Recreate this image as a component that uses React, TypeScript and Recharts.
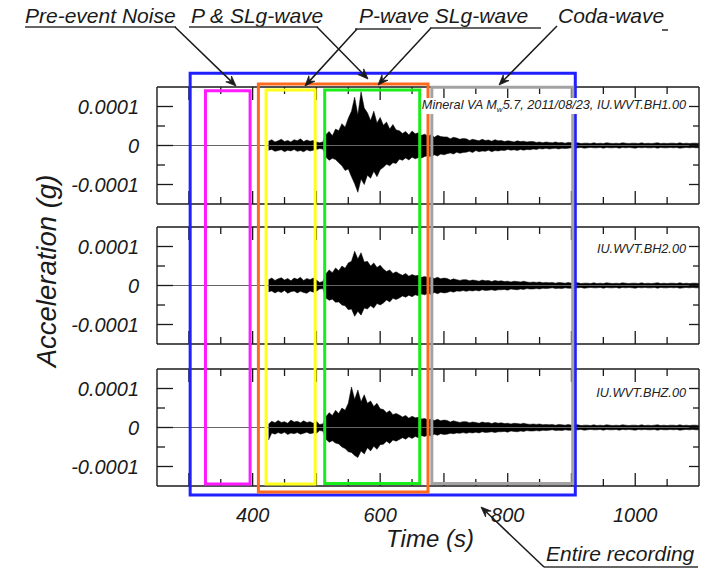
import React from 'react';
import { ComposedChart, Area, XAxis, YAxis, ReferenceLine, ReferenceArea } from 'recharts';

// ---------------- DATA ----------------
// Sampling grid of the envelope traces (seconds)
const TRACE_START_S = 425;
const TRACE_STEP_S = 5;

// Acceleration envelopes in micro-g (1e-6 g): upper and lower value per 5 s bin
const bh1Upper = [
  11, 15, 9, 12, 16, 10, 13, 9, 15, 12, 17, 10, 14, 11, 13, 9,
  7, 9,
  28, 36, 25, 42,
  38, 56, 47, 70,
  88, 124, 78, 138, 96,
  84, 64, 88, 58, 72,
  52, 60, 42, 54, 40,
  38, 31, 36, 27, 37, 30, 33, 26,
  29, 24, 28, 21, 26, 23, 22,
  22, 17, 21, 19, 16, 18,
  17, 13, 16, 14, 12, 16, 13, 14, 11, 15, 12,
  13, 10, 12, 11, 9, 12, 10, 11, 9, 10,
  10, 8, 9, 7, 9, 8, 7, 9, 7, 8, 6, 8, 7, 6,
  7, 5, 6, 6, 5, 7, 5, 6, 5, 7, 6, 5, 6, 5, 7, 6, 5, 6, 6, 5, 7, 5, 6, 5, 6, 7, 5, 6, 5, 6, 6, 5, 7, 5, 6, 5, 6, 6, 5,
];
const bh1Lower = [
  -12, -10, -15, -13, -11, -16, -12, -14, -10, -15, -13, -16, -11, -14, -12, -10,
  -8, -9,
  -30, -38, -33, -36,
  -44, -52, -64, -60,
  -80, -98, -120, -86, -100,
  -76, -84, -66, -80, -62,
  -56, -48, -52, -44, -46,
  -35, -38, -32, -37, -30, -34, -31, -32,
  -28, -26, -29, -24, -27, -22, -24,
  -21, -19, -22, -17, -20, -18,
  -17, -15, -18, -13, -16, -14, -15, -12, -16, -13, -14,
  -12, -13, -10, -12, -11, -13, -10, -12, -10, -11,
  -9, -10, -8, -9, -7, -9, -8, -7, -9, -7, -8, -7, -6, -8,
  -6, -5, -7, -6, -5, -6, -6, -5, -7, -5, -6, -6, -5, -7, -5, -6, -5, -6, -7, -5, -6, -5, -6, -6, -5, -7, -5, -6, -6, -5, -6, -5, -7, -6, -5, -6, -5, -6, -6,
];
const bh2Upper = [
  15, 19, 13, 17, 20, 14, 18, 12, 19, 16, 21, 13, 18, 15, 19, 14,
  8, 10,
  30, 40, 33, 45,
  38, 50, 44, 58,
  62, 88, 68, 84, 60,
  62, 50, 58, 46, 52,
  42, 36, 40, 31, 35,
  30, 26, 31, 24, 28, 25, 26, 21,
  23, 20, 22, 18, 21, 17, 19,
  18, 14, 17, 15, 13, 15,
  15, 12, 14, 13, 11, 14, 12, 13, 10, 13, 11,
  12, 10, 11, 9, 11, 10, 9, 11, 9, 8,
  9, 8, 9, 7, 8, 7, 8, 6, 8, 7, 6, 8, 6, 7,
  7, 5, 6, 6, 5, 7, 5, 6, 5, 7, 6, 5, 6, 5, 7, 6, 5, 6, 6, 5, 7, 5, 6, 5, 6, 7, 5, 6, 5, 6, 6, 5, 7, 5, 6, 5, 6, 6, 5,
];
const bh2Lower = [
  -16, -14, -19, -15, -18, -13, -20, -16, -14, -19, -15, -18, -20, -14, -17, -15,
  -9, -8,
  -32, -38, -35, -43,
  -42, -50, -52, -62,
  -60, -79, -66, -76, -58,
  -60, -52, -58, -46, -50,
  -45, -37, -42, -33, -36,
  -32, -27, -30, -25, -29, -24, -26, -22,
  -24, -20, -23, -18, -21, -17, -19,
  -18, -15, -17, -14, -15, -13,
  -15, -13, -14, -12, -14, -11, -13, -12, -11, -13, -11,
  -11, -10, -12, -9, -10, -11, -9, -10, -8, -9,
  -9, -8, -9, -7, -8, -7, -6, -8, -7, -8, -6, -7, -7, -6,
  -6, -5, -7, -6, -5, -6, -6, -5, -7, -5, -6, -6, -5, -7, -5, -6, -5, -6, -7, -5, -6, -5, -6, -6, -5, -7, -5, -6, -6, -5, -6, -5, -7, -6, -5, -6, -5, -6, -6,
];
const bhzUpper = [
  9, 16, 12, 18, 13, 15, 11, 19, 14, 16, 12, 17, 13, 15, 11, 16,
  8, 9,
  28, 38, 31, 44,
  36, 50, 44, 62,
  104, 72, 96, 66, 84,
  62, 68, 54, 62, 48,
  46, 38, 43, 33, 36,
  32, 27, 31, 24, 29, 25, 26, 22,
  23, 19, 22, 18, 21, 17, 19,
  18, 14, 17, 15, 13, 15,
  15, 12, 14, 13, 11, 14, 12, 13, 10, 13, 11,
  12, 10, 11, 9, 11, 10, 9, 11, 9, 8,
  9, 8, 9, 7, 8, 7, 8, 6, 8, 7, 6, 8, 6, 7,
  7, 5, 6, 6, 5, 7, 5, 6, 5, 7, 6, 5, 6, 5, 7, 6, 5, 6, 6, 5, 7, 5, 6, 5, 6, 7, 5, 6, 5, 6, 6, 5, 7, 5, 6, 5, 6, 6, 5,
];
const bhzLower = [
  -32, -14, -17, -13, -16, -12, -18, -14, -16, -13, -17, -15, -12, -16, -14, -15,
  -8, -9,
  -30, -38, -34, -40,
  -42, -50, -54, -62,
  -64, -72, -77, -60, -68,
  -52, -60, -48, -56, -44,
  -43, -35, -41, -32, -35,
  -31, -26, -30, -24, -28, -23, -26, -21,
  -23, -19, -22, -17, -20, -16, -18,
  -17, -15, -16, -14, -15, -13,
  -15, -13, -14, -12, -14, -11, -13, -12, -11, -13, -11,
  -11, -10, -12, -9, -10, -11, -9, -10, -8, -9,
  -9, -8, -9, -7, -8, -7, -6, -8, -7, -8, -6, -7, -7, -6,
  -6, -5, -7, -6, -5, -6, -6, -5, -7, -5, -6, -6, -5, -7, -5, -6, -5, -6, -7, -5, -6, -5, -6, -6, -5, -7, -5, -6, -6, -5, -6, -5, -7, -6, -5, -6, -5, -6, -6,
];

const timeDomain = [250, 1100];
const timeTicks = [300, 350, 400, 450, 500, 550, 600, 650, 700, 750, 800, 850, 900, 950, 1000, 1050];
const timeLabelTicks = [400, 600, 800, 1000];
const accelDomain = [-150, 150];
const accelTicks = [-100, -50, 0, 50, 100];
const accelLabelTicks = [-100, 0, 100];
const accelTickLabels = ['-0.0001', '0', '0.0001'];

const stationNames = ['IU.WVT.BH1.00', 'IU.WVT.BH2.00', 'IU.WVT.BHZ.00'];

// Analysis windows (seconds)
const windowNames = ['Entire recording', 'Pre-event Noise', 'P & SLg-wave', 'P-wave', 'SLg-wave', 'Coda-wave'];
const windowStarts = [302, 326, 409, 421, 513, 681];
const windowEnds = [906, 396, 675, 498, 662, 902];

// ---------------- STYLE / LAYOUT ----------------
const FONT = '"Liberation Sans", Arial, Helvetica, sans-serif';
const INK = '#1a1a1a';
const W = 714;
const H = 569;
const PLOT_LEFT = 157;
const PLOT_RIGHT = 699;
const PANEL_TOPS = [87, 227, 369];
const PANEL_H = 117;
const TOP_AXIS_H = 10;
const BOTTOM_AXIS_H = 45;
const LEFT_AXIS_W = 60;
const RIGHT_AXIS_W = 10;
const TM = 4; // tick margin used to locate the axis line in custom ticks

// box styles: colour and vertical extent in stack units (0 = bottom frame, 1 = top frame)
const WINDOW_STYLE: Record<string, { color: string; y1: number; y2: number }> = {
  'Entire recording': { color: '#1f1fff', y1: -0.0226, y2: 1.0343 },
  'Pre-event Noise': { color: '#ff1aff', y1: 0.005, y2: 0.9907 },
  'P & SLg-wave': { color: '#ff6a1c', y1: -0.015, y2: 1.0075 },
  'P-wave': { color: '#ffff1a', y1: 0.005, y2: 0.9925 },
  'SLg-wave': { color: '#1aee1a', y1: 0.006, y2: 0.9925 },
  'Coda-wave': { color: '#a3a3a3', y1: 0.0063, y2: 0.9992 },
};

const AXIS_LINE = { stroke: INK, strokeWidth: 1.4 };

const isMajor = (v: number) => v % 100 === 0;

const makeBottomTick = (showLabels: boolean) => (props: any) => {
  const { x, y, payload } = props;
  const axisY = y - TM;
  const len = isMajor(payload.value) ? 13 : 7;
  return (
    <g>
      <line x1={x} x2={x} y1={axisY} y2={axisY - len} stroke={INK} strokeWidth={1.3} />
      {showLabels && timeLabelTicks.includes(payload.value) ? (
        <text x={x} y={axisY + 29} textAnchor="middle" dominantBaseline="central" fontFamily={FONT}
          fontStyle="italic" fontSize={20} fill={INK}>{payload.value}</text>
      ) : null}
    </g>
  );
};

const TopTick = (props: any) => {
  const { x, y, payload } = props;
  const axisY = y + TM;
  const len = isMajor(payload.value) ? 13 : 7;
  return <line x1={x} x2={x} y1={axisY} y2={axisY + len} stroke={INK} strokeWidth={1.3} />;
};

const LeftTick = (props: any) => {
  const { x, y, payload } = props;
  const axisX = x + TM;
  const major = isMajor(payload.value);
  const li = accelLabelTicks.indexOf(payload.value);
  return (
    <g>
      <line x1={axisX} x2={axisX + (major ? 16 : 8)} y1={y} y2={y} stroke={INK} strokeWidth={1.3} />
      {li >= 0 ? (
        <text x={axisX - 18} y={y} textAnchor="end" dominantBaseline="central" fontFamily={FONT}
          fontStyle="italic" fontSize={20} fill={INK}>{accelTickLabels[li]}</text>
      ) : null}
    </g>
  );
};

const RightTick = (props: any) => {
  const { x, y, payload } = props;
  const axisX = x - TM;
  const len = isMajor(payload.value) ? 10 : 6;
  return <line x1={axisX} x2={axisX - len} y1={y} y2={y} stroke={INK} strokeWidth={1.3} />;
};

function Panel({ index, upper, lower, showTimeLabels }: { index: number; upper: number[]; lower: number[]; showTimeLabels: boolean }) {
  const data = upper.map((u, i) => ({ t: TRACE_START_S + i * TRACE_STEP_S, range: [lower[i], u] }));
  return (
    <div style={{ position: 'absolute', left: 0, top: PANEL_TOPS[index] - TOP_AXIS_H }}>
      <ComposedChart
        width={W}
        height={TOP_AXIS_H + PANEL_H + BOTTOM_AXIS_H}
        data={data}
        margin={{ top: 0, bottom: 0, left: PLOT_LEFT - LEFT_AXIS_W, right: W - PLOT_RIGHT - RIGHT_AXIS_W }}
      >
        <XAxis xAxisId="bottom" dataKey="t" type="number" domain={timeDomain} ticks={timeTicks} interval={0}
          allowDataOverflow height={BOTTOM_AXIS_H} tickSize={0} tickMargin={TM} tickLine={false}
          axisLine={AXIS_LINE} tick={makeBottomTick(showTimeLabels)} />
        <XAxis xAxisId="top" orientation="top" dataKey="t" type="number" domain={timeDomain} ticks={timeTicks}
          interval={0} allowDataOverflow height={TOP_AXIS_H} tickSize={0} tickMargin={TM} tickLine={false}
          axisLine={AXIS_LINE} tick={TopTick} />
        <YAxis yAxisId="left" type="number" domain={accelDomain} ticks={accelTicks} interval={0}
          allowDataOverflow width={LEFT_AXIS_W} tickSize={0} tickMargin={TM} tickLine={false}
          axisLine={AXIS_LINE} tick={LeftTick} />
        <YAxis yAxisId="right" orientation="right" type="number" domain={accelDomain} ticks={accelTicks}
          interval={0} allowDataOverflow width={RIGHT_AXIS_W} tickSize={0} tickMargin={TM} tickLine={false}
          axisLine={AXIS_LINE} tick={RightTick} />
        <ReferenceLine xAxisId="bottom" yAxisId="left" y={0} stroke="#666" strokeWidth={1} />
        <Area xAxisId="bottom" yAxisId="left" dataKey="range" type="linear" stroke="#000" strokeWidth={0.5}
          fill="#000" fillOpacity={1} isAnimationActive={false} dot={false} activeDot={false} />
      </ComposedChart>
    </div>
  );
}

function Arrow({ from, to }: { from: [number, number]; to: [number, number] }) {
  const [x1, y1] = from;
  const [x2, y2] = to;
  const ang = Math.atan2(y2 - y1, x2 - x1);
  const L = 11;
  const A = 0.38;
  const p1 = [x2 - L * Math.cos(ang - A), y2 - L * Math.sin(ang - A)];
  const p2 = [x2 - L * Math.cos(ang + A), y2 - L * Math.sin(ang + A)];
  const n = [x2 - 0.6 * L * Math.cos(ang), y2 - 0.6 * L * Math.sin(ang)];
  return (
    <g>
      <line x1={x1} y1={y1} x2={n[0]} y2={n[1]} stroke={INK} strokeWidth={1.5} />
      <path d={`M${p1[0]},${p1[1]} L${x2},${y2} L${p2[0]},${p2[1]} L${n[0]},${n[1]} Z`} fill={INK} stroke={INK} strokeWidth={0.8} />
    </g>
  );
}

const headerText = { fontFamily: FONT, fontStyle: 'italic' as const, fontSize: 21, fill: INK };

const stationLabelStyle: React.CSSProperties = {
  position: 'absolute',
  right: W - 687,
  fontFamily: FONT,
  fontStyle: 'italic',
  fontSize: 12.7,
  lineHeight: '14px',
  background: '#fff',
  color: '#222',
  whiteSpace: 'nowrap',
  padding: '0 1px',
};

export default function App() {
  const traces = [
    { upper: bh1Upper, lower: bh1Lower },
    { upper: bh2Upper, lower: bh2Lower },
    { upper: bhzUpper, lower: bhzLower },
  ];
  const labelTops = [98, 242, 386];
  return (
    <div style={{ position: 'absolute', left: 0, top: 0, width: W, height: H, background: '#fff', overflow: 'hidden' }}>
      {traces.map((tr, i) => (
        <Panel key={i} index={i} upper={tr.upper} lower={tr.lower} showTimeLabels={i === 2} />
      ))}

      {/* analysis windows */}
      <div style={{ position: 'absolute', left: 0, top: 0 }}>
        <ComposedChart width={W} height={H} data={[]}
          margin={{ top: PANEL_TOPS[0], bottom: H - (PANEL_TOPS[2] + PANEL_H), left: PLOT_LEFT, right: W - PLOT_RIGHT }}>
          <XAxis type="number" dataKey="t" domain={timeDomain} hide allowDataOverflow />
          <YAxis type="number" domain={[0, 1]} hide allowDataOverflow />
          {windowNames.map((name, i) => (
            <ReferenceArea key={name} x1={windowStarts[i]} x2={windowEnds[i]}
              y1={WINDOW_STYLE[name].y1} y2={WINDOW_STYLE[name].y2} ifOverflow="visible"
              fill="none" fillOpacity={0} stroke={WINDOW_STYLE[name].color} strokeWidth={3} />
          ))}
        </ComposedChart>
      </div>

      {/* annotations */}
      <svg width={W} height={H} style={{ position: 'absolute', left: 0, top: 0, pointerEvents: 'none' }}>
        <text x={25} y={23} {...headerText}>Pre-event Noise</text>
        <line x1={25} x2={176} y1={27} y2={27} stroke="#333" strokeWidth={1.6} />
        <Arrow from={[175, 27]} to={[236, 86]} />

        <text x={191} y={23} {...headerText}>P &amp; SLg-wave</text>
        <line x1={189} x2={318} y1={27} y2={27} stroke="#333" strokeWidth={1.6} />
        <Arrow from={[317, 27]} to={[368, 79]} />

        <text x={359} y={23} {...headerText}>P-wave SLg-wave</text>
        <line x1={355} x2={411} y1={29} y2={29} stroke="#333" strokeWidth={1.6} />
        <Arrow from={[357, 29]} to={[305, 86]} />
        <line x1={430} x2={541} y1={28} y2={28} stroke="#333" strokeWidth={1.6} />
        <Arrow from={[431, 28]} to={[378, 85]} />

        <text x={558} y={23} {...headerText}>Coda-wave</text>
        <line x1={662} x2={668} y1={30} y2={30} stroke="#333" strokeWidth={1.6} />
        <Arrow from={[557, 26]} to={[499, 85]} />

        <text x={546} y={561} {...headerText}>Entire recording</text>
        <line x1={544} x2={698} y1={567} y2={567} stroke="#333" strokeWidth={1.6} />
        <Arrow from={[544, 567]} to={[481, 507]} />

        <text x={430} y={538} textAnchor="middle" dominantBaseline="central" fontFamily={FONT}
          fontStyle="italic" fontSize={24} fill={INK}>Time (s)</text>
        <text x={46} y={271} textAnchor="middle" dominantBaseline="central" fontFamily={FONT}
          fontStyle="italic" fontSize={27.5} fill={INK} transform="rotate(-90 46 271)">Acceleration (g)</text>
      </svg>

      {/* station labels */}
      <div style={{ ...stationLabelStyle, top: labelTops[0] }}>
        Mineral VA M<span style={{ fontSize: 8, position: 'relative', top: 3 }}>w</span>5.7, 2011/08/23, {stationNames[0]}
      </div>
      <div style={{ ...stationLabelStyle, top: labelTops[1] }}>{stationNames[1]}</div>
      <div style={{ ...stationLabelStyle, top: labelTops[2] }}>{stationNames[2]}</div>
    </div>
  );
}
